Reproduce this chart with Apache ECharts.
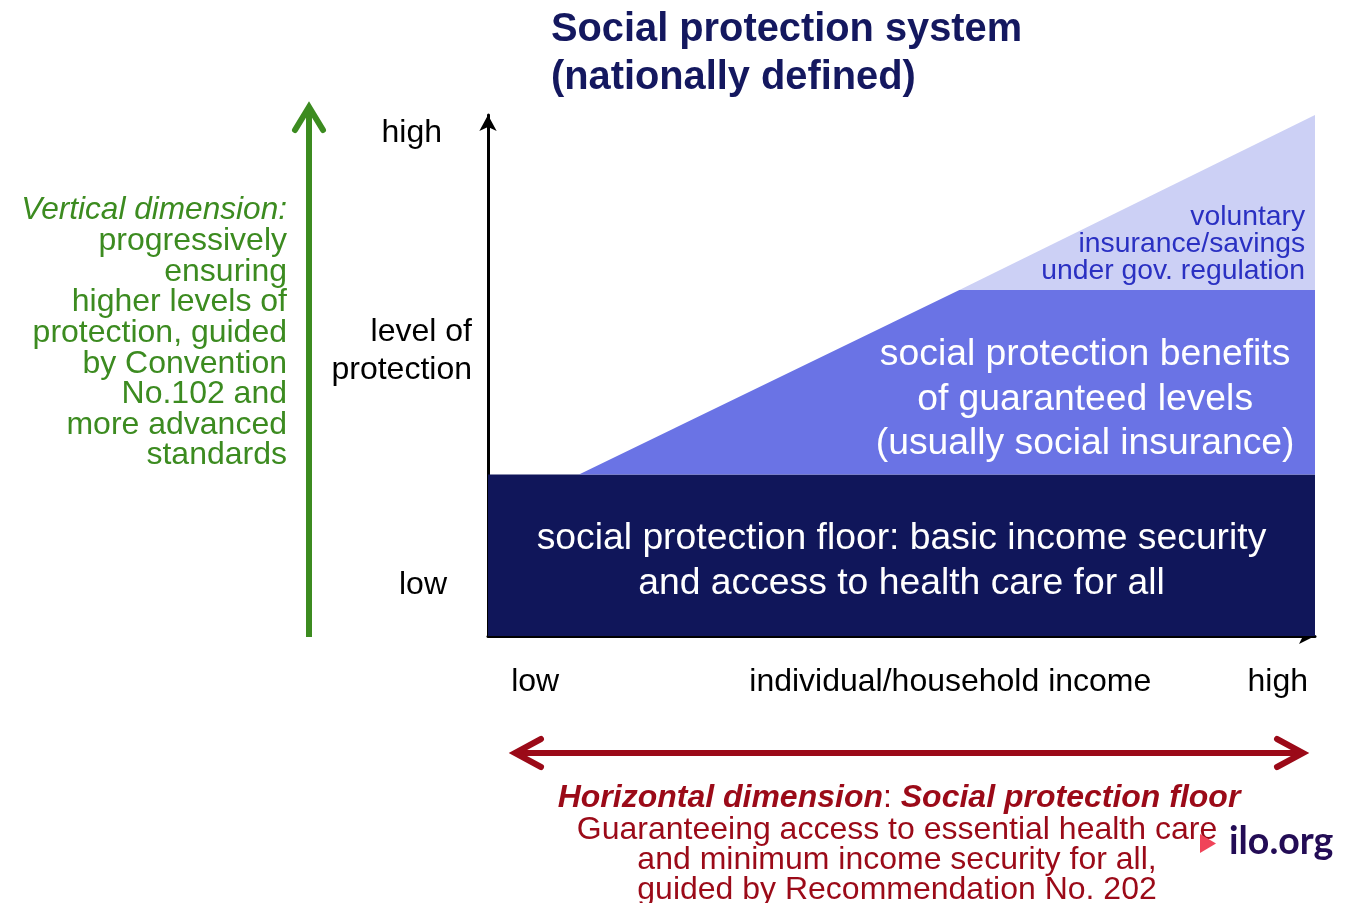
<!DOCTYPE html>
<html>
<head>
<meta charset="utf-8">
<title>Social protection system (nationally defined)</title>
<script src="https://cdn.jsdelivr.net/npm/echarts@6/dist/echarts.min.js"></script>
<style>
  html, body { margin: 0; padding: 0; background: #ffffff; }
  #chart { width: 1358px; height: 903px; }
</style>
</head>
<body>
<div id="chart"></div>
<script>
// Layers of the social protection "staircase": [income, level of protection] vertices
const floorShape = [[0, 0], [100, 0], [100, 31], [0, 31]];
const guaranteedShape = [[11, 31], [57, 66.4], [100, 66.4], [100, 31]];
const voluntaryShape = [[57, 66.4], [100, 100], [100, 66.4]];

// Axis wording
const incomeTickValues = [5.7, 55.9, 95.5];
const incomeTickLabels = ['low', 'individual/household income', 'high'];
const protectionTickValues = [96.6, 54.6, 9.8];
const protectionTickLabels = ['high', 'level of\nprotection', 'low'];

// Layer captions
const floorText = 'social protection floor: basic income security\nand access to health care for all';
const guaranteedText = 'social protection benefits\nof guaranteed levels\n(usually social insurance)';
const voluntaryText = 'voluntary\ninsurance/savings\nunder gov. regulation';

const FONT = '"Liberation Sans", Arial, sans-serif';
const GREEN = '#3c8b20';
const RED = '#9b0a18';

const chart = echarts.init(document.getElementById('chart'), null, { renderer: 'canvas' });

function layerSeries(name, shape, color, caption, anchor, textStyle) {
  return {
    name: name,
    type: 'custom',
    coordinateSystem: 'cartesian2d',
    data: shape,
    silent: true,
    clip: false,
    renderItem: function (params, api) {
      if (params.dataIndex !== 0) return null;
      const pts = shape.map(function (p) { return api.coord(p); });
      const at = api.coord(anchor);
      return {
        type: 'group',
        children: [
          { type: 'polygon', shape: { points: pts }, style: { fill: color, stroke: null } },
          {
            type: 'text',
            z2: 10,
            style: Object.assign({
              text: caption,
              x: at[0],
              y: at[1],
              fontFamily: FONT,
              verticalAlign: 'middle'
            }, textStyle)
          }
        ]
      };
    }
  };
}

const labelLookup = function (values, labels) {
  return function (v) {
    for (let i = 0; i < values.length; i++) {
      if (Math.abs(values[i] - v) < 1e-6) return labels[i];
    }
    return '';
  };
};

const option = {
  animation: false,
  backgroundColor: '#ffffff',
  title: {
    text: 'Social protection system\n(nationally defined)',
    left: 551,
    top: 6,
    padding: 0,
    textStyle: {
      fontFamily: FONT,
      fontSize: 39.8,
      fontWeight: 'bold',
      color: '#14185f',
      lineHeight: 48
    }
  },
  grid: { left: 488, right: 43, top: 115, bottom: 267 },
  xAxis: {
    type: 'value',
    min: 0,
    max: 100,
    splitLine: { show: false },
    axisTick: { show: false },
    axisLine: {
      show: true,
      symbol: ['none', 'arrow'],
      symbolSize: [12, 16],
      lineStyle: { color: '#000000', width: 3 }
    },
    axisLabel: {
      show: true,
      customValues: incomeTickValues,
      formatter: labelLookup(incomeTickValues, incomeTickLabels),
      margin: 30,
      fontFamily: FONT,
      fontSize: 32,
      color: '#000000'
    }
  },
  yAxis: {
    type: 'value',
    min: 0,
    max: 100,
    splitLine: { show: false },
    axisTick: { show: false },
    axisLine: {
      show: true,
      symbol: ['none', 'arrow'],
      symbolSize: [13, 16],
      lineStyle: { color: '#000000', width: 3 }
    },
    axisLabel: {
      show: true,
      customValues: protectionTickValues,
      formatter: function (v) {
        const t = labelLookup(protectionTickValues, protectionTickLabels)(v);
        if (t === 'high') return '{h|high}';
        if (t === 'low') return '{l|low}';
        return '{m|' + t.replace('\n', '}\n{m|') + '}';
      },
      margin: 16,
      fontFamily: FONT,
      fontSize: 32,
      color: '#000000',
      align: 'right',
      rich: {
        h: { fontFamily: FONT, fontSize: 32, color: '#000', padding: [0, 30, 0, 0] },
        l: { fontFamily: FONT, fontSize: 32, color: '#000', padding: [0, 25, 0, 0] },
        m: { fontFamily: FONT, fontSize: 32, color: '#000', lineHeight: 38 }
      }
    }
  },
  series: [
    layerSeries('social protection floor', floorShape, '#10165a', floorText, [50, 14.4], {
      fill: '#ffffff', fontSize: 37.3, lineHeight: 45, align: 'center'
    }),
    layerSeries('guaranteed levels', guaranteedShape, '#6a73e5', guaranteedText, [72.2, 45.4], {
      fill: '#ffffff', fontSize: 37.3, lineHeight: 44.5, align: 'center'
    }),
    layerSeries('voluntary', voluntaryShape, '#ccd0f5', voluntaryText, [98.8, 75.2], {
      fill: '#2a30c2', fontSize: 28.3, lineHeight: 27, align: 'right'
    })
  ],
  graphic: [
    // vertical dimension arrow
    {
      type: 'polyline',
      shape: { points: [[309, 637], [309, 108]] },
      style: { stroke: GREEN, lineWidth: 6, fill: null }
    },
    {
      type: 'polyline',
      shape: { points: [[295, 130], [309, 107], [323, 130]] },
      style: { stroke: GREEN, lineWidth: 6, fill: null, lineCap: 'round', lineJoin: 'miter' }
    },
    {
      type: 'text',
      style: {
        text: 'Vertical dimension:',
        x: 287, y: 210,
        align: 'right', verticalAlign: 'middle',
        fontFamily: FONT, fontSize: 31.6, fontStyle: 'italic', fill: GREEN
      }
    },
    {
      type: 'text',
      style: {
        text: 'progressively\nensuring\nhigher levels of\nprotection, guided\nby Convention\nNo.102 and\nmore advanced\nstandards',
        x: 287, y: 348.5,
        align: 'right', verticalAlign: 'middle',
        fontFamily: FONT, fontSize: 32, lineHeight: 30.6, fill: GREEN
      }
    },
    // horizontal dimension arrow
    {
      type: 'polyline',
      shape: { points: [[516, 753], [1301, 753]] },
      style: { stroke: RED, lineWidth: 6, fill: null }
    },
    {
      type: 'polyline',
      shape: { points: [[541, 739], [515, 753], [541, 767]] },
      style: { stroke: RED, lineWidth: 6, fill: null, lineCap: 'round', lineJoin: 'miter' }
    },
    {
      type: 'polyline',
      shape: { points: [[1277, 739], [1303, 753], [1277, 767]] },
      style: { stroke: RED, lineWidth: 6, fill: null, lineCap: 'round', lineJoin: 'miter' }
    },
    {
      type: 'text',
      style: {
        text: '{b|Horizontal dimension}{n|: }{b|Social protection floor}',
        x: 899, y: 798,
        align: 'center', verticalAlign: 'middle',
        rich: {
          b: { fontFamily: FONT, fontSize: 32, fontWeight: 'bold', fontStyle: 'italic', fill: RED, color: RED },
          n: { fontFamily: FONT, fontSize: 32, fill: RED, color: RED }
        }
      }
    },
    {
      type: 'text',
      style: {
        text: 'Guaranteeing access to essential health care\nand minimum income security for all,\nguided by Recommendation No. 202',
        x: 897, y: 860,
        align: 'center', verticalAlign: 'middle',
        fontFamily: FONT, fontSize: 32, lineHeight: 30, fill: RED
      }
    },
    // ilo.org mark
    {
      type: 'polygon',
      shape: { points: [[1200, 834], [1200, 853], [1216, 843.5]] },
      style: { fill: '#f04459' }
    },
    {
      type: 'text',
      style: {
        text: 'ilo.org',
        x: 1229, y: 842,
        align: 'left', verticalAlign: 'middle',
        fontFamily: 'Lato, "Liberation Sans", sans-serif', fontSize: 37.5, fontWeight: 'bold', fill: '#230c55'
      }
    }
  ]
};

chart.setOption(option);
</script>
</body>
</html>
